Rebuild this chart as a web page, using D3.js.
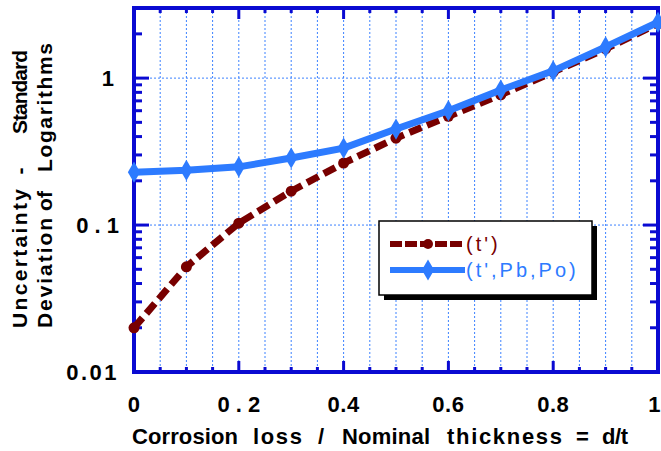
<!DOCTYPE html>
<html>
<head>
<meta charset="utf-8">
<script src="https://cdn.jsdelivr.net/npm/d3@7"></script>
<style>
  body { margin: 0; background: #fff; }
  text { font-family: "Liberation Sans", Arial, sans-serif; font-weight: bold; }
</style>
</head>
<body>
<svg id="chart" width="661" height="451"></svg>
<script>
// ratio d/t
const ratio = [0, 0.1, 0.2, 0.3, 0.4, 0.5, 0.6, 0.7, 0.8, 0.9, 1.0];
// uncertainty, t' only
const tOnly = [0.02, 0.052, 0.103, 0.17, 0.264, 0.39, 0.55, 0.77, 1.1, 1.58, 2.35];
// uncertainty, t', Pb, Po
const tPbPo = [0.229, 0.236, 0.249, 0.286, 0.334, 0.45, 0.6, 0.83, 1.12, 1.63, 2.4];

const xTickLabels = ["0", "0 . 2", "0.4", "0.6", "0.8", "1"];
const yTickLabels = ["0.01", "0 . 1", "1"];
const seriesNames = ["(t')", "(t',Pb,Po)"];
const xTitle = ["Corrosion", "loss", "/", "Nominal", "thickness", "=", "d/t"];
const yTitle1 = ["Uncertainty", "-", "Standard"];
const yTitle2 = ["Deviation", "of", "Logarithms"];

const axisCol = "#0a0ad2";
const gridCol = "#3c82ff";
const redCol = "#780000";
const blueCol = "#2d7bff";

const svg = d3.select("#chart");
const pL = 134, pR = 658, pT = 8, pB = 372;

const x = d3.scaleLinear().domain([0, 1]).range([pL, pR]);
const y = d3.scaleLog().domain([0.01, 3]).range([pB, pT]);

// grid
const xGrid = d3.range(1, 20).map(i => i * 0.05);
svg.append("g").selectAll("line").data(xGrid).join("line")
  .attr("x1", d => x(d)).attr("x2", d => x(d))
  .attr("y1", pT).attr("y2", pB)
  .attr("stroke", gridCol).attr("stroke-width", 1).attr("stroke-dasharray", "2,2");
svg.append("g").selectAll("line").data([0.1, 1]).join("line")
  .attr("x1", pL).attr("x2", pR)
  .attr("y1", d => y(d)).attr("y2", d => y(d))
  .attr("stroke", gridCol).attr("stroke-width", 1).attr("stroke-dasharray", "2,2");

// ticks
const minorY = [];
[0.01, 0.1, 1].forEach(dec => { for (let k = 2; k <= 9; k++) if (dec * k <= 3) minorY.push(dec * k); });
const ticks = svg.append("g").attr("stroke", axisCol).attr("stroke-width", 3);
[0.1, 1].forEach(v => {
  ticks.append("line").attr("x1", pL).attr("x2", pL + 15).attr("y1", y(v)).attr("y2", y(v));
  ticks.append("line").attr("x1", pR).attr("x2", pR - 15).attr("y1", y(v)).attr("y2", y(v));
});
minorY.forEach(v => {
  ticks.append("line").attr("x1", pL).attr("x2", pL + 8).attr("y1", y(v)).attr("y2", y(v));
  ticks.append("line").attr("x1", pR).attr("x2", pR - 8).attr("y1", y(v)).attr("y2", y(v));
});
xGrid.forEach((v, i) => {
  const len = (i + 1) % 4 === 0 ? 11 : 5;
  ticks.append("line").attr("x1", x(v)).attr("x2", x(v)).attr("y1", pB).attr("y2", pB - len);
  ticks.append("line").attr("x1", x(v)).attr("x2", x(v)).attr("y1", pT).attr("y2", pT + len);
});

// frame
svg.append("rect").attr("x", pL).attr("y", pT)
  .attr("width", pR - pL).attr("height", pB - pT)
  .attr("fill", "none").attr("stroke", axisCol).attr("stroke-width", 4);

// series
const line = d3.line().x((d, i) => x(ratio[i])).y(d => y(d));
svg.append("path").datum(tOnly).attr("d", line)
  .attr("fill", "none").attr("stroke", redCol).attr("stroke-width", 7)
  .attr("stroke-dasharray", "13,6");
svg.append("g").selectAll("circle").data(tOnly).join("circle")
  .attr("cx", (d, i) => x(ratio[i])).attr("cy", d => y(d)).attr("r", 5.5)
  .attr("fill", redCol);

svg.append("path").datum(tPbPo).attr("d", line)
  .attr("fill", "none").attr("stroke", blueCol).attr("stroke-width", 7);
const diamond = d3.symbol().type(d3.symbolDiamond).size(130);
svg.append("g").selectAll("path").data(tPbPo).join("path")
  .attr("d", diamond)
  .attr("transform", (d, i) => `translate(${x(ratio[i])},${y(d)})`)
  .attr("fill", blueCol);

// tick labels
svg.append("g").selectAll("text").data(xTickLabels).join("text")
  .attr("x", (d, i) => i === 5 ? 661 : x(i * 0.2)).attr("y", 412)
  .attr("text-anchor", (d, i) => i === 5 ? "end" : "middle").attr("font-size", 22)
  .attr("letter-spacing", (d, i) => i === 1 ? 0 : 0.5)
  .text(d => d);
const yVals = [0.01, 0.1, 1];
svg.append("g").selectAll("text").data(yTickLabels).join("text")
  .attr("x", (d, i) => i === 2 ? 114 : 119).attr("y", (d, i) => y(yVals[i]) + 8)
  .attr("text-anchor", "end").attr("font-size", 22)
  .attr("letter-spacing", (d, i) => i === 0 ? 2.5 : 0)
  .text(d => d);

// axis titles, word by word: [start, end] of each word along its line
function words(g, list, spans, base, size) {
  list.forEach((w, i) => {
    const [a, b] = spans[i];
    const t = g.append("text").attr("y", base).attr("font-size", size).text(w);
    if (w.length > 1) {
      t.attr("x", a).attr("textLength", b - a).attr("lengthAdjust", "spacing");
    } else {
      t.attr("x", (a + b) / 2).attr("text-anchor", "middle");
    }
  });
}
words(svg.append("g"), xTitle,
  [[132, 238], [253, 302], [317, 325], [342, 430], [447, 562], [577, 588], [602, 628]], 444, 22);
const yt = svg.append("g").attr("transform", "rotate(-90)");
words(yt, yTitle1, [[-328, -189], [-177, -165], [-134, -50]], 27, 21);
words(yt, yTitle2, [[-328, -218], [-211, -191], [-172, -43]], 52, 21);

// legend
const lg = svg.append("g");
lg.append("rect").attr("x", 384).attr("y", 226).attr("width", 213).attr("height", 74).attr("fill", "#000");
lg.append("rect").attr("x", 379).attr("y", 221).attr("width", 213).attr("height", 74)
  .attr("fill", "#fff").attr("stroke", "#000").attr("stroke-width", 1.5);
lg.append("line").attr("x1", 390).attr("x2", 465).attr("y1", 244).attr("y2", 244)
  .attr("stroke", redCol).attr("stroke-width", 6).attr("stroke-dasharray", "12,3");
lg.append("circle").attr("cx", 428).attr("cy", 244).attr("r", 5).attr("fill", redCol);
lg.append("line").attr("x1", 390).attr("x2", 465).attr("y1", 270).attr("y2", 270)
  .attr("stroke", blueCol).attr("stroke-width", 6);
lg.append("path").attr("d", diamond).attr("transform", "translate(428,270)").attr("fill", blueCol);
lg.append("text").attr("x", 466).attr("y", 251).attr("font-size", 20).attr("letter-spacing", 3)
  .attr("fill", redCol).style("font-weight", "normal").text(seriesNames[0]);
lg.append("text").attr("x", 466).attr("y", 277).attr("font-size", 20).attr("letter-spacing", 3)
  .attr("fill", blueCol).style("font-weight", "normal").text(seriesNames[1]);
</script>
</body>
</html>
